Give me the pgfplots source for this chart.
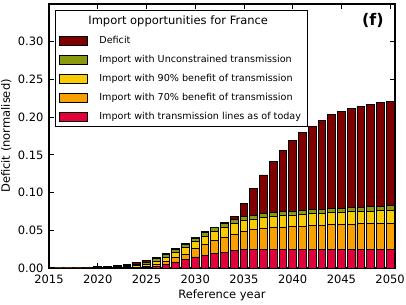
\documentclass[border=0pt]{standalone}
\usepackage{fontspec}
\setmainfont{DejaVu Sans}
\usepackage{pgfplots}
\pgfplotsset{compat=1.18}
\usepackage{pgfplotstable}

\definecolor{cdef}{RGB}{128,0,0}
\definecolor{cunc}{RGB}{138,154,16}
\definecolor{cnin}{RGB}{248,204,0}
\definecolor{csev}{RGB}{248,160,0}
\definecolor{ctod}{RGB}{224,0,58}

\pgfplotstableread{
year today p70 p90 unc def
2016 0 0 0 0 0.0003
2017 0 0 0 0 0.0005
2018 0 0 0 0.0001 0.0008
2019 0 0 0.0001 0.0002 0.0011
2020 0 0.0001 0.0002 0.0004 0.0015
2021 0.0001 0.0002 0.0004 0.0008 0.0021
2022 0.0002 0.0004 0.0008 0.0015 0.0032
2023 0.0003 0.0007 0.0015 0.0028 0.0048
2024 0.0005 0.0012 0.0030 0.0048 0.0068
2025 0.0009 0.0025 0.0052 0.0075 0.0098
2026 0.0020 0.0049 0.0093 0.0124 0.0140
2027 0.0044 0.0084 0.0140 0.0180 0.0192
2028 0.0080 0.0137 0.0208 0.0248 0.0258
2029 0.0110 0.0186 0.0274 0.0318 0.0330
2030 0.0146 0.0256 0.0354 0.0398 0.0405
2031 0.0172 0.0310 0.0424 0.0473 0.0478
2032 0.0195 0.0367 0.0490 0.0535 0.0540
2033 0.0212 0.0407 0.0544 0.0597 0.0603
2034 0.0230 0.0450 0.0588 0.0640 0.0680
2035 0.0245 0.0482 0.0628 0.0680 0.0858
2036 0.0245 0.0505 0.0650 0.0700 0.1048
2037 0.0245 0.0522 0.0668 0.0718 0.1233
2038 0.0245 0.0533 0.0682 0.0732 0.1410
2039 0.0245 0.0542 0.0694 0.0745 0.1556
2040 0.0245 0.0550 0.0703 0.0756 0.1690
2041 0.0245 0.0556 0.0710 0.0765 0.1800
2042 0.0245 0.0561 0.0717 0.0773 0.1880
2043 0.0245 0.0566 0.0724 0.0781 0.1960
2044 0.0245 0.0571 0.0731 0.0788 0.2030
2045 0.0245 0.0576 0.0738 0.0794 0.2073
2046 0.0245 0.0580 0.0744 0.0800 0.2110
2047 0.0245 0.0584 0.0749 0.0806 0.2144
2048 0.0245 0.0588 0.0754 0.0811 0.2170
2049 0.0245 0.0592 0.0760 0.0817 0.2190
2050 0.0245 0.0595 0.0765 0.0824 0.2210
}\data

\pgfplotsset{
  mylegend/.style={legend image code/.code={\draw[##1,draw=black,line width=0.9pt] (0pt,-4.5pt) rectangle (28pt,4.5pt);}},
  mybar/.style={fill=#1, draw=black, line width=0.9pt, mylegend},
}

\begin{document}
\begin{tikzpicture}
\begin{axis}[
  scale only axis, width=346pt, height=264pt,
  xmin=2015, xmax=2050.5, ymin=0, ymax=0.35,
  ybar, bar width=0.8, bar shift=0pt,
  xtick={2015,2020,2025,2030,2035,2040,2045,2050},
  ytick={0,0.05,0.10,0.15,0.20,0.25,0.30},
  tick align=inside, major tick length=5pt,
  tick style={black, line width=0.8pt},
  axis line style={line width=1.1pt},
  /pgf/number format/assume math mode=true,
  font=\fontsize{11.5}{13.8}\selectfont,
  xticklabel style={/pgf/number format/1000 sep={}, yshift=-3pt},
  yticklabel style={/pgf/number format/.cd, fixed, fixed zerofill, precision=2, /tikz/.cd, xshift=-2pt},
  xlabel={Reference year},
  ylabel={Deficit (normalised)},
  xlabel style={at={(axis description cs:0.5,-0.0833)}, anchor=north, inner sep=0pt},
  ylabel style={at={(axis description cs:-0.1387,0.5)}, anchor=north, inner sep=0pt},
  legend style={at={(0,1)}, anchor=north west, xshift=6pt, yshift=-6pt,
    draw=black, line width=1pt, font=\fontsize{9.6}{11.5}\selectfont,
    inner xsep=4pt, inner ysep=3.5pt, row sep=6.2pt, column sep=9pt},
  legend cell align=left,
]
\addlegendimage{empty legend}
\addlegendentry{\hspace*{-11pt}\fontsize{11.5}{13.8}\selectfont Import opportunities for France}
\addplot[mybar=cdef] table[x=year,y=def]{\data};
\addlegendentry{Deficit}
\addplot[mybar=cunc] table[x=year,y=unc]{\data};
\addlegendentry{Import with Unconstrained transmission}
\addplot[mybar=cnin] table[x=year,y=p90]{\data};
\addlegendentry{Import with 90\% benefit of transmission}
\addplot[mybar=csev] table[x=year,y=p70]{\data};
\addlegendentry{Import with 70\% benefit of transmission}
\addplot[mybar=ctod] table[x=year,y=today]{\data};
\addlegendentry{Import with transmission lines as of today}
\node[font=\fontsize{16}{19}\selectfont\bfseries] at (rel axis cs:0.936,0.936) {(f)};
\end{axis}
\pgfresetboundingbox
\path ([shift={(-49pt,-37pt)}]current axis.south west) rectangle ([shift={(11pt,4pt)}]current axis.north east);
\end{tikzpicture}
\end{document}
